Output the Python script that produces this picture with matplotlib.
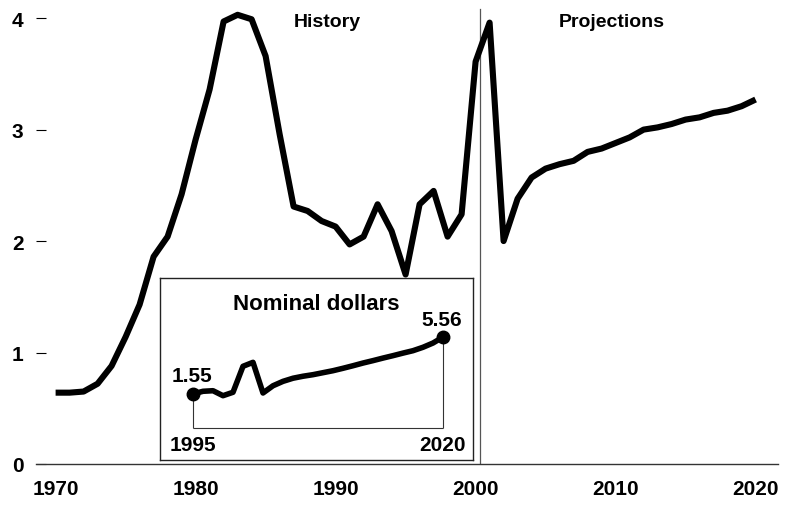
import numpy as np
import matplotlib.pyplot as plt

plt.rcParams['font.family'] = ['Liberation Sans', 'DejaVu Sans']
plt.rcParams['font.weight'] = 'bold'

# real price, history 1970-2000 and projections 2001-2020
years = np.arange(1970, 2021)
price = [0.64, 0.64, 0.65, 0.72, 0.88, 1.14, 1.43, 1.86, 2.04, 2.42,
         2.91, 3.36, 3.97, 4.03, 3.99, 3.66, 2.96, 2.31, 2.27, 2.18,
         2.13, 1.97, 2.04, 2.33, 2.09, 1.70, 2.33, 2.45, 2.04, 2.24,
         3.61, 3.96, 2.00, 2.38, 2.57, 2.65, 2.69, 2.72, 2.80, 2.83,
         2.88, 2.93, 3.00, 3.02, 3.05, 3.09, 3.11, 3.15, 3.17, 3.21,
         3.27]

# inset: nominal dollars 1995-2020
nom_years = np.arange(1995, 2021)
nominal = [1.55, 1.74, 1.78, 1.43, 1.67, 3.50, 3.78, 1.62, 2.13, 2.44,
           2.66, 2.80, 2.91, 3.05, 3.19, 3.36, 3.54, 3.73, 3.90, 4.08,
           4.25, 4.43, 4.60, 4.84, 5.14, 5.56]

y_ticks = [0, 1, 2, 3, 4]
x_ticks = [1970, 1980, 1990, 2000, 2010, 2020]
split_year = 2000.3

W, H = 795, 506
fig = plt.figure(figsize=(W / 100, H / 100), dpi=100)

ax = fig.add_axes([36 / W, 41 / H, 742 / W, 457 / H])
ax.plot(years, price, color='black', lw=4.4, solid_joinstyle='round',
        solid_capstyle='butt', zorder=3)
ax.set_xlim(1968.6, 2021.6)
ax.set_ylim(0, 4.1)
ax.set_yticks(y_ticks)
ax.set_xticks(x_ticks)
for s in ['top', 'right', 'left']:
    ax.spines[s].set_visible(False)
ax.spines['bottom'].set_color('#333333')
ax.spines['bottom'].set_linewidth(1.0)
ax.tick_params(axis='y', direction='in', length=7, width=0.8, pad=9, labelsize=15)
ax.tick_params(axis='x', length=0, pad=11, labelsize=15)
ax.axvline(split_year, ymin=0, ymax=4.08 / 4.1, color='#555555', lw=0.9)
ax.text(1989.4, 3.97, 'History', ha='center', va='center', fontsize=14)
ax.text(2009.7, 3.97, 'Projections', ha='center', va='center', fontsize=14)

# inset box
ins = fig.add_axes([160 / W, 45 / H, 313 / W, 182 / H])
ins.set_xlim(1991.7, 2023.0)
ins.set_ylim(-3.1, 9.72)
ins.set_xticks([])
ins.set_yticks([])
for s in ins.spines.values():
    s.set_linewidth(1.0)
    s.set_color('#222222')
base = -0.84
ins.plot(nom_years, nominal, color='black', lw=4.0, solid_joinstyle='round', zorder=3)
ends = [0, -1]
ins.plot(nom_years[ends], np.array(nominal)[ends], 'o', color='black', ms=9, zorder=4)
ins.vlines(nom_years[ends], base, np.array(nominal)[ends], color='#333333', lw=0.8)
ins.hlines(base, nom_years[0], nom_years[-1], color='#333333', lw=0.8)
for i in ends:
    ins.annotate(f'{nominal[i]:.2f}', (nom_years[i], nominal[i]), xytext=(-1, 13),
                 textcoords='offset points', ha='center', va='center', fontsize=15)
    ins.annotate(str(nom_years[i]), (nom_years[i], base), xytext=(0, -12),
                 textcoords='offset points', ha='center', va='center', fontsize=15)
ins.text(0.5, 0.86, 'Nominal dollars', transform=ins.transAxes, ha='center',
         va='center', fontsize=16)

fig.savefig('out.png', dpi=100)
